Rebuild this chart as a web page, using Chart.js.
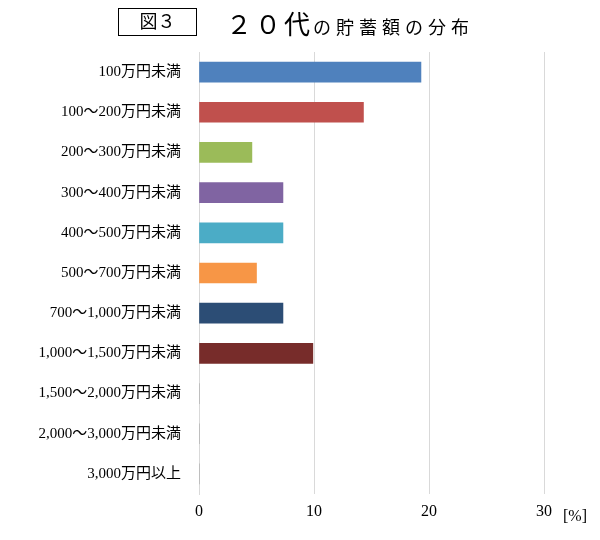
<!DOCTYPE html>
<html><head><meta charset="utf-8">
<script src="https://cdn.jsdelivr.net/npm/chart.js@4"></script>
<style>
body{margin:0;background:#fff;font-family:"Liberation Serif","Noto Sans CJK JP",serif;}
#wrap{position:relative;width:600px;height:540px;}
#box{position:absolute;left:118px;top:8px;width:77px;height:26px;border:1px solid #000;font-size:18px;text-align:center;line-height:26px;}
#t{position:absolute;left:226px;top:4px;font-size:26px;letter-spacing:3px;}
#t span{font-size:18px;letter-spacing:5px;}
#pct{position:absolute;left:563px;top:507px;font-size:16px;}
</style></head><body>
<div id="wrap">
<canvas id="c" width="600" height="540"></canvas>
<div id="box">図３</div>
<div id="t">２０代<span>の貯蓄額の分布</span></div>
<div id="pct">[%]</div>
</div>
<script>
const categories=["100万円未満","100～200万円未満","200～300万円未満","300～400万円未満","400～500万円未満","500～700万円未満","700～1,000万円未満","1,000～1,500万円未満","1,500～2,000万円未満","2,000～3,000万円未満","3,000万円以上"];
const values=[19.3,14.3,4.6,7.3,7.3,5.0,7.3,9.9,0,0,0];
const colors=["#4F81BD","#C0504D","#9BBB59","#8064A2","#4BACC6","#F79646","#2C4D75","#772C2A","#888","#888","#888"];
const font={family:'"Liberation Serif","Noto Sans CJK JP",serif',size:15};
new Chart(document.getElementById('c'),{type:'bar',
data:{labels:categories,datasets:[{data:values,backgroundColor:colors,barThickness:20}]},
options:{indexAxis:'y',responsive:false,animation:false,
layout:{padding:{top:52,right:56,bottom:0,left:0}},
plugins:{legend:{display:false},tooltip:{enabled:false}},
scales:{
x:{min:0,max:30,ticks:{stepSize:10,color:'#000',font:{...font,size:16},padding:8},grid:{color:'#d9d9d9',drawTicks:false},border:{display:false},afterFit:a=>{a.height=46;}},
y:{ticks:{color:'#000',font:font,padding:10},grid:{display:false},border:{color:'#d9d9d9'},afterFit:a=>{a.width=199;}}
}}});
</script></body></html>
